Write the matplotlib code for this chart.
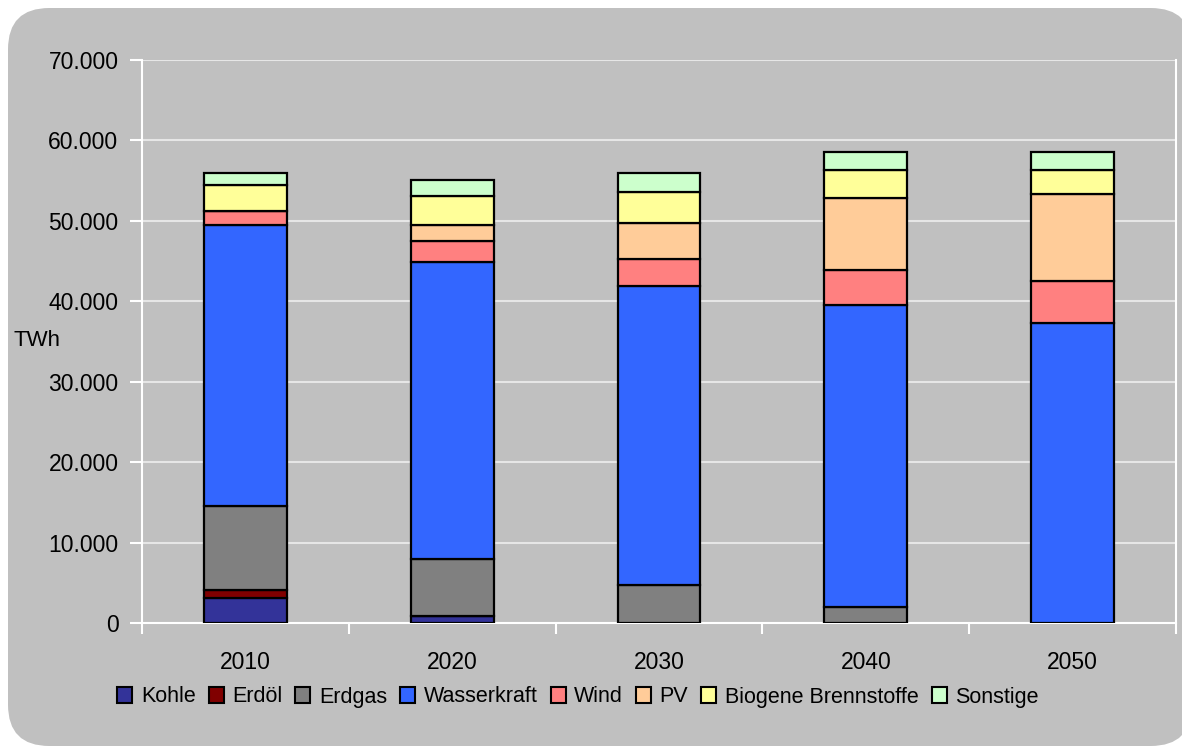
import matplotlib
matplotlib.use("Agg")
import matplotlib.pyplot as plt
from matplotlib.patches import FancyBboxPatch, Patch
import numpy as np

plt.rcParams['font.family'] = ['Liberation Sans', 'DejaVu Sans']

years = ["2010", "2020", "2030", "2040", "2050"]
series_names = ["Kohle", "Erdöl", "Erdgas", "Wasserkraft", "Wind", "PV",
                "Biogene Brennstoffe", "Sonstige"]
kohle = [3100, 900, 0, 0, 0]
erdoel = [1000, 0, 0, 0, 0]
erdgas = [10500, 7050, 4700, 2000, 0]
wasserkraft = [34900, 36900, 37200, 37500, 37300]
wind = [1700, 2700, 3300, 4400, 5200]
pv = [0, 1900, 4500, 9000, 10900]
biogene = [3200, 3600, 3900, 3400, 2900]
sonstige = [1600, 2000, 2300, 2200, 2200]
series = [kohle, erdoel, erdgas, wasserkraft, wind, pv, biogene, sonstige]
colors = ["#333399", "#800000", "#808080", "#3366FF", "#FF8080", "#FFCC99",
          "#FFFF99", "#CCFFCC"]
yticks = [0, 10000, 20000, 30000, 40000, 50000, 60000, 70000]
ytick_labels = ["0", "10.000", "20.000", "30.000", "40.000", "50.000",
                "60.000", "70.000"]

W, H = 1182, 749
fig = plt.figure(figsize=(W / 100, H / 100), dpi=100)
fig.patch.set_facecolor("white")

bg = FancyBboxPatch((8 / W, 1 - 746 / H), (1192 - 8) / W, (746 - 8) / H,
                    boxstyle="round,pad=0,rounding_size=0.035",
                    transform=fig.transFigure, facecolor="#C0C0C0",
                    edgecolor="none", zorder=-5, mutation_aspect=W / H)
fig.patches.append(bg)

left, right, top, bottom = 142, 1176, 60, 623
ax = fig.add_axes([left / W, 1 - bottom / H, (right - left) / W, (bottom - top) / H])
ax.set_zorder(2)
ax.set_facecolor("#C0C0C0")

x = np.arange(len(years))
base = np.zeros(len(years))
for vals, c in zip(series, colors):
    v = np.array(vals, dtype=float)
    ax.bar(x, v, width=0.4, bottom=base, color=c, edgecolor="black",
           linewidth=1.6, zorder=3)
    base += v

ax.set_xlim(-0.5, len(years) - 0.5)
ax.set_ylim(0, 70000)
ax.set_yticks(yticks)
ax.set_yticklabels(ytick_labels, fontsize=16.5)
ax.set_xticks(x)
ax.set_xticklabels(years, fontsize=16.5)
ax.set_xticks(np.arange(-0.5, len(years)), minor=True)
ax.tick_params(axis='x', which='major', length=0, pad=20)
ax.tick_params(axis='x', which='minor', length=8, color="white", width=1.5)
ax.tick_params(axis='y', length=9, color="white", width=1.5, pad=8)
ax.yaxis.grid(True, color="#E6E6E6", linewidth=1.5, zorder=1)
ax.set_axisbelow(True)
for s in ["left", "bottom", "right"]:
    ax.spines[s].set_color("white")
    ax.spines[s].set_linewidth(1.5)
ax.spines["top"].set_visible(False)

fig.text(14 / W, 1 - 340 / H, "TWh", fontsize=16, ha="left", va="center")

handles = [Patch(facecolor=c, edgecolor="black", linewidth=1.5) for c in colors]
fig.legend(handles, series_names, loc="center", ncol=8,
           bbox_to_anchor=(578 / W, 1 - 697 / H), frameon=False,
           fontsize=15.5, handlelength=0.7, handleheight=0.7,
           handletextpad=0.4, columnspacing=0.6, borderpad=0)

fig.savefig("out.png", dpi=100, facecolor="white")
